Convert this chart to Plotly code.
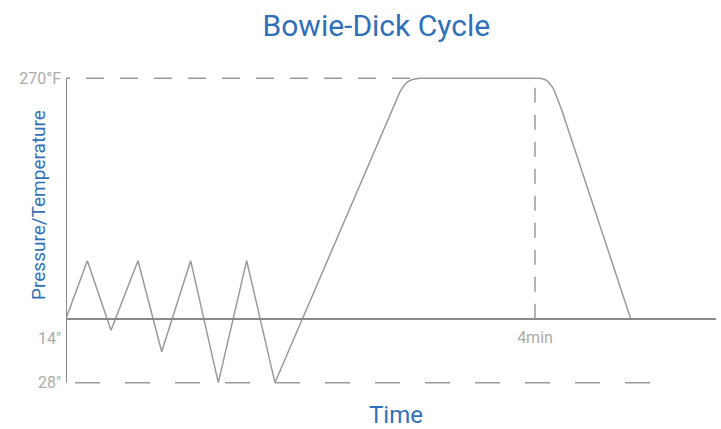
import plotly.graph_objects as go

# ---- data (schematic cycle: time in minutes, level in arbitrary pressure/temperature units) ----
time_min = [0.0, 0.182, 0.384, 0.614, 0.816, 1.063, 1.299, 1.541, 1.782,
            2.823, 2.849, 2.883, 2.917, 2.959, 3.019,
            4.043, 4.085, 4.113, 4.156, 4.19, 4.228, 4.816]
level = [0.0, 25.26, -5.05, 25.26, -14.37, 25.26, -27.87, 25.26, -27.87,
         96.56, 98.87, 101.57, 103.31, 104.31, 104.7,
         104.7, 104.18, 103.22, 100.35, 95.99, 90.9, 0.0]

TEMP_LEVEL = 104.7      # 270°F plateau
VAC_LEVEL = -27.87      # 28" vacuum
HOLD_MARK = 4           # 4 min
TEMP_GUIDE_END = 2.934  # where the 270°F guide meets the ramp
VAC_GUIDE = [0.077, 5.11]

y_tick_vals = [104.7, -8.4, -27.87]
y_tick_text = ["270°F", "14″", "28″"]
x_tick_vals = [4]
x_tick_text = ["4min"]

X_RANGE = [0, 5.5437]
Y_RANGE = [-35.41, 112.67]

LINE = "#9a9a9a"
AXIS = "#8a8a8a"
BLUE = "#3070b8"
TICK = "#ababab"

fig = go.Figure()
fig.add_trace(go.Scatter(x=time_min, y=level, mode="lines",
                         line=dict(color=LINE, width=1.5), hoverinfo="skip",
                         showlegend=False))

shapes = [
    # y axis line
    dict(type="line", xref="x", yref="y", x0=0, x1=0, y0=VAC_LEVEL, y1=TEMP_LEVEL,
         line=dict(color=AXIS, width=2)),
    # 270°F guide
    dict(type="line", xref="x", yref="y", x0=TEMP_GUIDE_END, x1=0, y0=TEMP_LEVEL, y1=TEMP_LEVEL,
         line=dict(color=LINE, width=1.5, dash="18px,16px")),
    # 4 min guide
    dict(type="line", xref="x", yref="y", x0=HOLD_MARK, x1=HOLD_MARK, y0=0, y1=TEMP_LEVEL,
         line=dict(color=LINE, width=1.5, dash="15px,12px")),
    # 28" guide
    dict(type="line", xref="x", yref="y", x0=VAC_GUIDE[0], x1=VAC_GUIDE[1], y0=VAC_LEVEL, y1=VAC_LEVEL,
         line=dict(color=LINE, width=1.5, dash="25px,25px")),
]

zero_pos = (0 - Y_RANGE[0]) / (Y_RANGE[1] - Y_RANGE[0])

fig.update_layout(
    width=721, height=429,
    margin=dict(l=66, r=5, t=60, b=29),
    paper_bgcolor="white", plot_bgcolor="white",
    font=dict(family="Roboto", color=TICK),
    title=dict(text="Bowie-Dick Cycle", x=0.522, y=0.9417, xanchor="center", yanchor="middle",
               xref="container", yref="container",
               font=dict(family="Roboto", size=30, color=BLUE)),
    xaxis=dict(range=X_RANGE, showgrid=False, zeroline=False, anchor="free", position=zero_pos,
               showline=True, linecolor=AXIS, linewidth=2,
               tickvals=x_tick_vals, ticktext=x_tick_text, ticks="",
               ticklabelstandoff=4,
               tickfont=dict(family="Roboto", size=16, color=TICK)),
    yaxis=dict(range=Y_RANGE, showgrid=False, zeroline=False, showline=False,
               tickvals=y_tick_vals, ticktext=y_tick_text, ticks="",
               ticklabelstandoff=4,
               tickfont=dict(family="Roboto", size=16, color=TICK)),
    shapes=shapes,
    annotations=[
        dict(text="Pressure/Temperature", xref="paper", yref="paper", x=-0.0431, y=0.5735,
             textangle=-90, showarrow=False, xanchor="center", yanchor="middle",
             font=dict(family="Roboto", size=19, color=BLUE)),
        dict(text="Time", xref="paper", yref="paper", x=0.507, y=-0.0441,
             showarrow=False, xanchor="center", yanchor="middle",
             font=dict(family="Roboto", size=24, color=BLUE)),
    ],
)

fig.write_html("out.html", config={"displayModeBar": False},
               post_script="document.body.style.margin='0px';")
